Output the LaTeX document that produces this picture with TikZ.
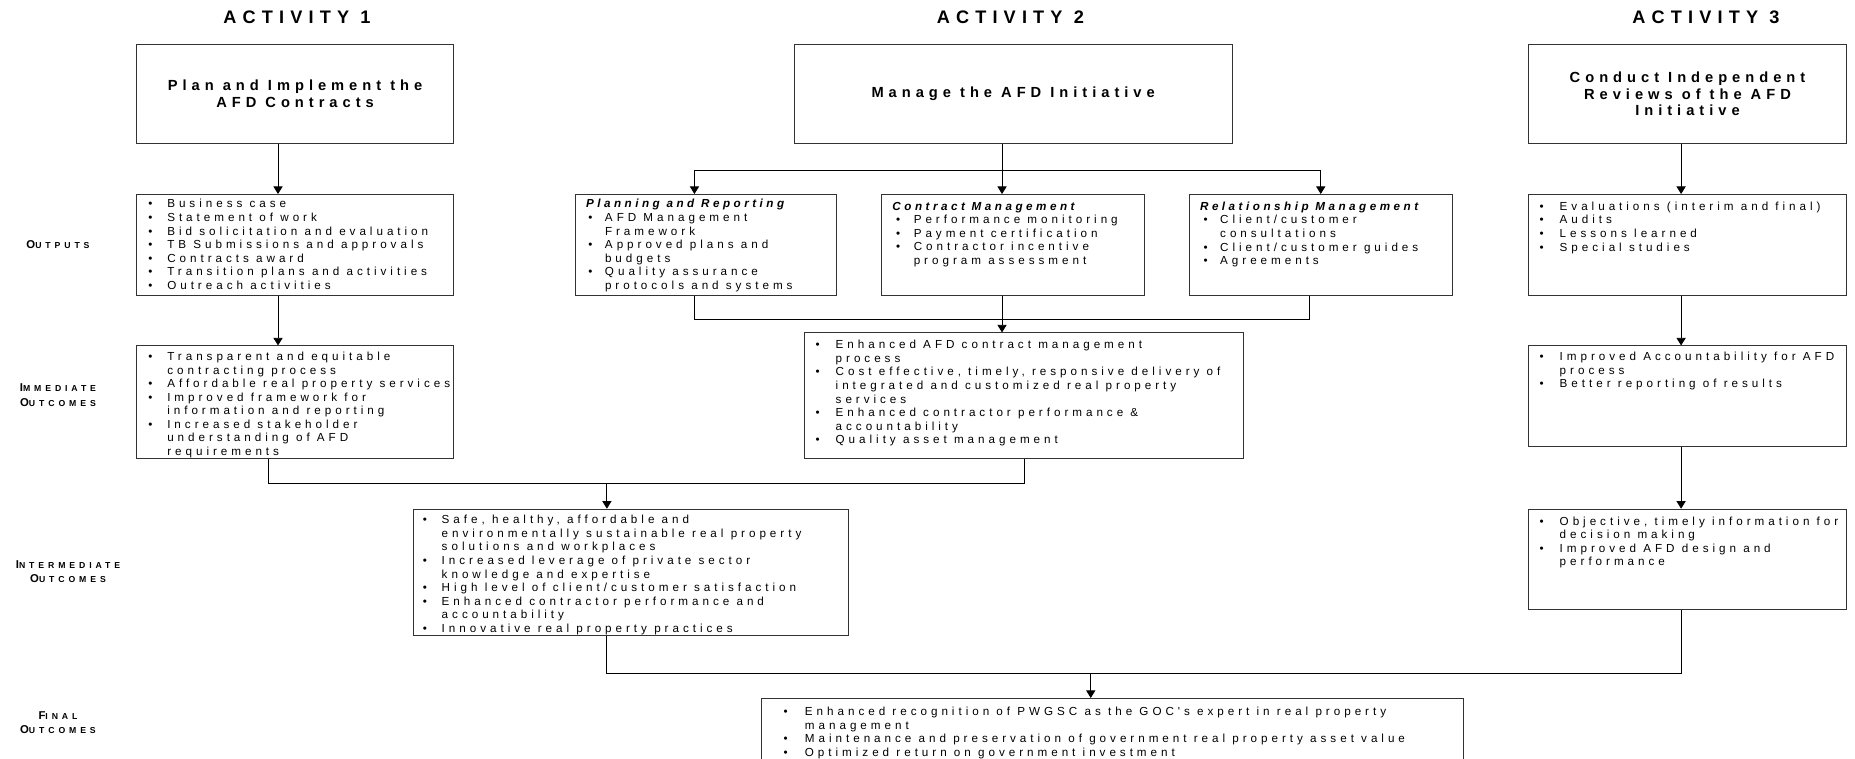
\documentclass[tikz,border=0pt]{standalone}
\usepackage{fontspec}
\setmainfont{Liberation Sans}
\newfontfamily\bodyf[LetterSpace=34]{Liberation Sans}
\newfontfamily\bitf[LetterSpace=30]{Liberation Sans}
\newfontfamily\labf[LetterSpace=45]{Liberation Sans}
\usetikzlibrary{arrows.meta}
\newdimen\bgap
\newdimen\xind
\newcommand\bodyset[1]{\bodyf\fontsize{7.4}{8.6}\selectfont\raggedright\parindent=0pt
  \vspace*{\dimexpr(#1pt+3.4pt)*3/4-5.35pt\relax}}
\newcommand\setind[2]{\bgap=\dimexpr(#2pt-#1pt)*3/4\relax\xind=\dimexpr #2pt*3/4\relax}
\newcommand\itm[1]{\par\leftskip=\xind\noindent\llap{\makebox[\bgap][l]{\textbullet}}#1}
\newcommand\ttl[2]{\par\leftskip=\dimexpr #1pt*3/4\relax\noindent{\bitf\bfseries\itshape #2}\par}
\newcommand\lsc[2]{{\fontsize{7.2}{9}\selectfont #1}{\fontsize{5.5}{9}\selectfont #2}}
\tikzset{
  bx/.style={draw=black!80, line width=0.6pt, inner sep=0pt, anchor=north west},
  arr/.style={line width=0.55pt, -{Triangle[width=5.8pt,length=4.8pt]}},
  ln/.style={line width=0.55pt},
  hd/.style={font=\bodyf\bfseries\fontsize{11.5}{13}\selectfont, inner sep=0pt},
  ttlbox/.style={bx, align=center, font=\bodyf\bfseries\fontsize{9.3}{10.5}\selectfont},
  lab/.style={align=center, font=\labf\bfseries\fontsize{7.2}{9}\selectfont, inner sep=0pt},
}
\newcommand\bbox[6]{\node[bx, minimum width={(#4-#2)*0.75pt}, minimum height={(#5-#3)*0.75pt}] (#1) at (#2,#3)
  {\parbox[c][\dimexpr(#5pt-#3pt)*3/4\relax][t]{\dimexpr(#4pt-#2pt)*3/4\relax}{#6\par}};}
\newcommand\tbox[6]{\node[ttlbox, minimum width={(#4-#2)*0.75pt}, minimum height={(#5-#3)*0.75pt}] (#1) at (#2,#3) {#6};}
\begin{document}
\begin{tikzpicture}[x=0.75pt,y=-0.75pt]
\useasboundingbox (0,0) rectangle (1568,641);
\clip (0,0) rectangle (1568,641);
% headers
\node[hd] (h1) at (251,15) {ACTIVITY 1};
\node[hd] (h2) at (854,15) {ACTIVITY 2};
\node[hd] (h3) at (1442,15) {ACTIVITY 3};
% row labels
\node[lab] (lo) at (49,207) {\lsc{O}{UTPUTS}};
\node[lab] (li) at (49,334) {\lsc{I}{MMEDIATE}\\\lsc{O}{UTCOMES}};
\node[lab] (lm) at (57.5,483) {\lsc{I}{NTERMEDIATE}\\\lsc{O}{UTCOMES}};
\node[lab] (lf) at (49,611) {\lsc{F}{INAL}\\\lsc{O}{UTCOMES}};
% activity boxes
\tbox{a1}{115}{37}{383}{121}{Plan and Implement the\\AFD Contracts}
\tbox{a2}{671}{37}{1041}{121}{Manage the AFD Initiative}
\tbox{a3}{1292}{37}{1560}{121}{Conduct Independent\\Reviews of the AFD\\Initiative}
% outputs
\bbox{o1}{115}{164}{383}{249}{\bodyset{8}\setind{10}{26}%
  \itm{Business case}\itm{Statement of work}\itm{Bid solicitation and evaluation}%
  \itm{TB Submissions and approvals}\itm{Contracts award}\itm{Transition plans and activities}%
  \itm{Outreach activities}}
\bbox{pr}{486}{164}{707}{249}{\bodyset{8}\setind{11}{25}\ttl{9}{Planning and Reporting}%
  \itm{AFD Management\newline Framework}\itm{Approved plans and\newline budgets}%
  \itm{Quality assurance\newline protocols and systems}}
\bbox{cm}{745}{164}{967}{249}{\bodyset{10}\setind{12}{27}\ttl{9}{Contract Management}%
  \itm{Performance monitoring}\itm{Payment certification}%
  \itm{Contractor incentive\newline program assessment}}
\bbox{rm}{1005}{164}{1227}{249}{\bodyset{10}\setind{12}{26}\ttl{9}{Relationship Management}%
  \itm{Client/customer\newline consultations}\itm{Client/customer guides}\itm{Agreements}}
\bbox{o3}{1292}{164}{1560}{249}{\bodyset{10}\setind{9}{26}%
  \itm{Evaluations (interim and final)}\itm{Audits}\itm{Lessons learned}\itm{Special studies}}
% immediate outcomes
\bbox{i1}{115}{292}{383}{387}{\bodyset{9}\setind{10}{26}%
  \itm{Transparent and equitable\newline contracting process}%
  \itm{Affordable real property services}%
  \itm{Improved framework for\newline information and reporting}%
  \itm{Increased stakeholder\newline understanding of AFD\newline requirements}}
\bbox{i2}{680}{281}{1051}{387}{\bodyset{10}\setind{9}{26}%
  \itm{Enhanced AFD contract management\newline process}%
  \itm{Cost effective, timely, responsive delivery of\newline integrated and customized real property\newline services}%
  \itm{Enhanced contractor performance \&\newline accountability}%
  \itm{Quality asset management}}
\bbox{i3}{1292}{292}{1560}{377}{\bodyset{9}\setind{9}{26}%
  \itm{Improved Accountability for AFD\newline process}\itm{Better reporting of results}}
% intermediate outcomes
\bbox{im}{349}{430}{717}{537}{\bodyset{9}\setind{8}{24}%
  \itm{Safe, healthy, affordable and\newline environmentally sustainable real property\newline solutions and workplaces}%
  \itm{Increased leverage of private sector\newline knowledge and expertise}%
  \itm{High level of client/customer satisfaction}%
  \itm{Enhanced contractor performance and\newline accountability}%
  \itm{Innovative real property practices}}
\bbox{it3}{1292}{430}{1560}{515}{\bodyset{10}\setind{9}{26}%
  \itm{Objective, timely information for\newline decision making}%
  \itm{Improved AFD design and\newline performance}}
% final outcomes
\bbox{f}{643}{590}{1237}{655}{\bodyset{11}\setind{19}{37}%
  \itm{Enhanced recognition of PWGSC as the GOC's expert in real property\newline management}%
  \itm{Maintenance and preservation of government real property asset value}%
  \itm{Optimized return on government investment}}
% connector x positions
\coordinate (x1) at (235,0);
\coordinate (x2) at (847,0);
\coordinate (xpr) at (587,0);
\coordinate (xrb) at (1107,0);
\coordinate (x3) at (1421,0);
\coordinate (xi1) at (227,0);
\coordinate (xi2) at (866,0);
\coordinate (j2) at (847,144);
\coordinate (j3) at (847,270);
\coordinate (j4) at (513,409);
\coordinate (j5) at (922,569);
% activity 1
\draw[arr] (a1.south -| x1) -- (o1.north -| x1);
\draw[arr] (o1.south -| x1) -- (i1.north -| x1);
% activity 2
\draw[ln] (a2.south -| x2) -- (j2);
\draw[arr] (j2) -- (cm.north -| x2);
\draw[arr] (j2) -| (pr.north -| xpr);
\draw[arr] (j2) -| (rm.north);
\draw[ln] (pr.south -| xpr) -- (xpr |- j3) -| (rm.south -| xrb);
\draw[arr] (cm.south -| x2) -- (i2.north -| x2);
% activity 3
\draw[arr] (a3.south -| x3) -- (o3.north -| x3);
\draw[arr] (o3.south -| x3) -- (i3.north -| x3);
\draw[arr] (i3.south -| x3) -- (it3.north -| x3);
% to intermediate
\draw[ln] (i1.south -| xi1) -- (xi1 |- j4) -- (xi2 |- j4) -- (i2.south -| xi2);
\draw[arr] (j4) -- (im.north -| j4);
% to final
\draw[ln] (im.south -| j4) -- (j4 |- j5) -- (x3 |- j5) -- (it3.south -| x3);
\draw[arr] (j5) -- (f.north -| j5);
\end{tikzpicture}
\end{document}
